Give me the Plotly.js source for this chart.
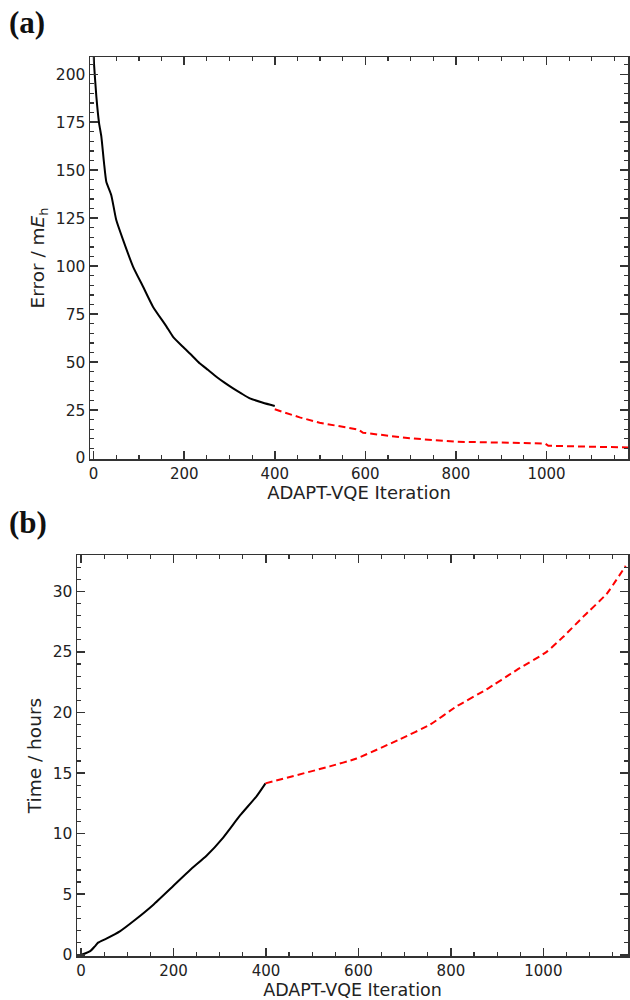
<!DOCTYPE html>
<html>
<head>
<meta charset="utf-8">
<script src="https://cdn.plot.ly/plotly-3.0.1.min.js"></script>
<style>html,body{margin:0;padding:0;background:#fff;}#chart{width:630px;height:1000px;}</style>
</head>
<body>
<div id="chart"></div>
<script>
// Panel (a): error vs iteration
const errIterSolid = [0, 1, 6, 12, 17, 23, 28, 39, 50, 65, 87, 109, 131, 161, 175, 197, 216, 234, 253, 271, 289, 308, 326, 345, 374, 400];
const errValSolid  = [212, 205, 188.5, 174.6, 167.6, 153.7, 144, 137, 124, 113.7, 99.8, 89.4, 78.9, 68.5, 63.3, 58, 53.7, 49.4, 45.9, 42.4, 39.3, 36.3, 33.7, 31.1, 28.8, 27.1];
const errIterDash  = [400, 455, 499, 560, 585, 595, 698, 801, 997, 1004, 1180];
const errValDash   = [25.4, 21.2, 18.4, 15.7, 14.8, 13.2, 10.3, 8.5, 7.6, 6.4, 5.5];

// Panel (b): time vs iteration
const timeIterSolid = [0, 1, 20, 30, 37, 55, 84, 120, 156, 200, 236, 272, 308, 344, 380, 399];
const timeValSolid  = [0, 0, 0.3, 0.7, 1.0, 1.34, 1.94, 2.98, 4.12, 5.7, 7.0, 8.2, 9.7, 11.5, 13.1, 14.15];
const timeIterDash  = [399, 538, 596, 690, 755, 812, 877, 942, 1007, 1043, 1086, 1137, 1178];
const timeValDash   = [14.15, 15.55, 16.2, 17.8, 19.0, 20.5, 21.9, 23.5, 25.0, 26.25, 27.9, 29.8, 32.1];

const xTitle = 'ADAPT-VQE Iteration';
const yTitleA = 'Error / m<i>E</i><sub>h</sub>';
const yTitleB = 'Time / hours';
const panelLabels = ['(a)', '(b)'];

const fontFam = '"DejaVu Sans", Verdana, sans-serif';
const axisCol = '#333';

const traces = [
  {x: errIterSolid, y: errValSolid, mode: 'lines', xaxis: 'x', yaxis: 'y',
   line: {color: '#000', width: 2, shape: 'spline', smoothing: 0.5}, hoverinfo: 'skip'},
  {x: errIterDash, y: errValDash, mode: 'lines', xaxis: 'x', yaxis: 'y',
   line: {color: '#ff0000', width: 2, dash: '7px,4px'}, hoverinfo: 'skip'},
  {x: timeIterSolid, y: timeValSolid, mode: 'lines', xaxis: 'x2', yaxis: 'y2',
   line: {color: '#000', width: 2, shape: 'spline', smoothing: 0.5}, hoverinfo: 'skip'},
  {x: timeIterDash, y: timeValDash, mode: 'lines', xaxis: 'x2', yaxis: 'y2',
   line: {color: '#ff0000', width: 2, dash: '7px,4px', shape: 'spline', smoothing: 0.4}, hoverinfo: 'skip'}
];

function xAx(domain, anchor, range, titleSize) {
  return {
    domain: domain, anchor: anchor, range: range,
    showgrid: false, zeroline: false,
    showline: true, linecolor: axisCol, linewidth: 1.5, mirror: 'allticks',
    ticks: 'inside', ticklen: 8, tickwidth: 1.5, tickcolor: axisCol,
    dtick: 200, tick0: 0,
    minor: {ticks: 'inside', ticklen: 4, tickwidth: 1.2, tickcolor: axisCol, dtick: 50, showgrid: false},
    tickfont: {family: fontFam, size: 15, color: '#222'},
    title: {text: xTitle, font: {family: fontFam, size: titleSize, color: '#222'}, standoff: 3},
    automargin: false
  };
}
function yAx(domain, anchor, range, dtick, minorDtick, title) {
  return {
    domain: domain, anchor: anchor, range: range,
    showgrid: false, zeroline: false,
    showline: true, linecolor: axisCol, linewidth: 1.5, mirror: 'allticks',
    ticks: 'inside', ticklen: 8, tickwidth: 1.5, tickcolor: axisCol,
    dtick: dtick, tick0: 0,
    minor: {ticks: 'inside', ticklen: 4, tickwidth: 1.2, tickcolor: axisCol, dtick: minorDtick, showgrid: false},
    tickfont: {family: fontFam, size: 15.5, color: '#222'},
    title: {text: title, font: {family: fontFam, size: 18.5, color: '#222'}, standoff: 6},
    automargin: false
  };
}

const layout = {
  width: 630, height: 1000,
  margin: {l: 0, r: 0, t: 0, b: 0},
  paper_bgcolor: '#fff', plot_bgcolor: '#fff',
  showlegend: false,
  xaxis: xAx([90/630, 628/630], 'y', [-8, 1180], 18),
  yaxis: yAx([1 - 459/1000, 1 - 57/1000], 'x', [-0.5, 209], 25, 5, yTitleA),
  xaxis2: xAx([77/630, 628/630], 'y2', [-8.6, 1183], 17.5),
  yaxis2: yAx([1 - 956/1000, 1 - 555/1000], 'x2', [-0.1, 33], 5, 1, yTitleB),
  annotations: [
    {text: '<b>' + panelLabels[0] + '</b>', xref: 'paper', yref: 'paper', x: 7/630, y: 1 - 22/1000,
     xanchor: 'left', yanchor: 'middle', showarrow: false,
     font: {family: '"Liberation Serif", "Times New Roman", serif', size: 31, color: '#111'}},
    {text: '<b>' + panelLabels[1] + '</b>', xref: 'paper', yref: 'paper', x: 7/630, y: 1 - 522/1000,
     xanchor: 'left', yanchor: 'middle', showarrow: false,
     font: {family: '"Liberation Serif", "Times New Roman", serif', size: 31, color: '#111'}}
  ]
};

Plotly.newPlot('chart', traces, layout, {staticPlot: true, displayModeBar: false});
</script>
</body>
</html>
